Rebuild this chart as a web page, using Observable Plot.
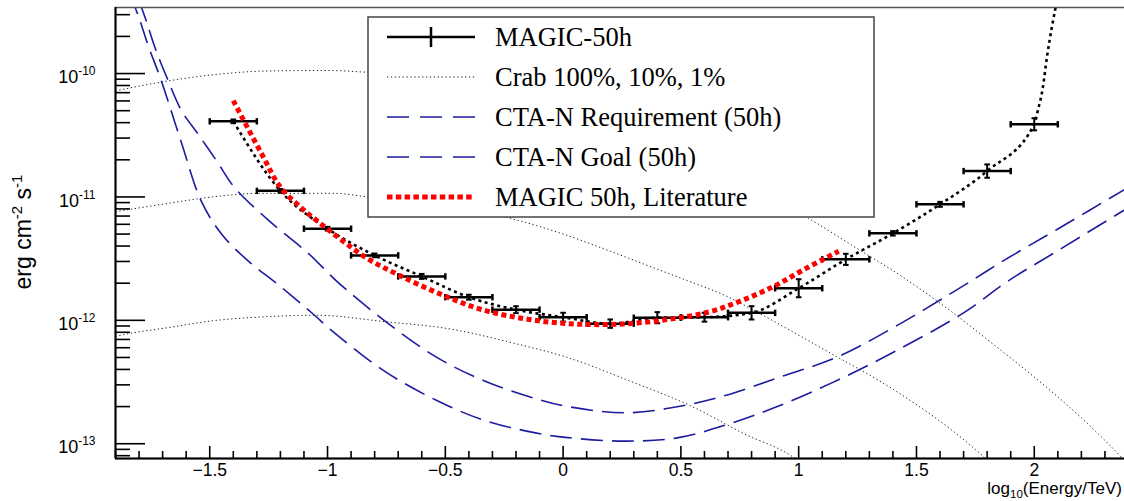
<!DOCTYPE html>
<html>
<head>
<meta charset="utf-8">
<script src="https://cdn.jsdelivr.net/npm/d3@7"></script>
<script src="https://cdn.jsdelivr.net/npm/@observablehq/plot@0.6"></script>
<style>
html, body { margin: 0; padding: 0; background: #fff; overflow: hidden; }
#chart { width: 1124px; height: 501px; overflow: hidden; position: relative; }
#chart svg { max-width: none !important; display: block; }
</style>
</head>
<body>
<div id="chart"></div>
<script>
// ---------------- data ----------------
// MAGIC-50h sensitivity points (log10 E/TeV bin centres, flux in erg cm^-2 s^-1)
const magicLogE = [-1.4,-1.2,-1.0,-0.8,-0.6,-0.4,-0.2,0.0,0.2,0.4,0.6,0.8,1.0,1.2,1.4,1.6,1.8,2.0];
const magicFlux = [4.10e-11,1.12e-11,5.53e-12,3.36e-12,2.27e-12,1.54e-12,1.22e-12,1.06e-12,0.94e-12,1.05e-12,1.06e-12,1.15e-12,1.82e-12,3.12e-12,5.07e-12,8.71e-12,1.62e-11,3.88e-11];
const magicErrDex = [0.015,0.015,0.015,0.015,0.02,0.02,0.028,0.036,0.034,0.045,0.036,0.054,0.073,0.045,0.018,0.02,0.054,0.049];
const magicBinHalf = 0.1;
// black dotted curve continuing above the last point
const magicTailLogE = [2.015,2.035,2.055,2.075,2.092];
const magicTailFlux = [5.01e-11,7.41e-11,1.41e-10,2.40e-10,3.55e-10];

// MAGIC 50h, literature
const litLogE = [-1.40,-1.28,-1.20,-1.11,-1.04,-0.94,-0.83,-0.70,-0.53,-0.35,-0.15,0.05,0.25,0.45,0.62,0.76,0.90,1.03,1.17];
const litFlux = [6.03e-11,2.24e-11,1.20e-11,8.13e-12,6.31e-12,4.47e-12,3.16e-12,2.34e-12,1.66e-12,1.23e-12,1.02e-12,9.33e-13,9.33e-13,1.02e-12,1.17e-12,1.45e-12,1.91e-12,2.63e-12,3.63e-12];

// Crab 100 %, 10 %, 1 %
const crab100LogE = [-1.9,-1.78,-1.61,-1.46,-1.27,-1.0,-0.83,-0.5,-0.2,0.0,0.3,0.6,0.85,1.04,1.25,1.45,1.65,1.83,2.0,2.2,2.34,2.4];
const crab100Flux = [7.24e-11,8.04e-11,9.12e-11,9.89e-11,1.047e-10,1.059e-10,1.023e-10,8.91e-11,6.76e-11,5.13e-11,3.09e-11,1.82e-11,1.10e-11,6.76e-12,3.80e-12,2.19e-12,1.17e-12,6.31e-13,3.47e-13,1.62e-13,8.91e-14,6.76e-14];
const crab10LogE = [-1.9,-1.67,-1.49,-1.28,-0.97,-0.83,-0.5,-0.23,0.0,0.2,0.42,0.53,0.70,0.84,1.12,1.41,1.69,1.8];
const crab10Flux = [7.59e-12,8.91e-12,1.0e-11,1.07e-11,1.07e-11,1.0e-11,8.71e-12,6.76e-12,5.01e-12,3.63e-12,2.51e-12,2.09e-12,1.55e-12,1.12e-12,5.62e-13,2.69e-13,1.12e-13,7.41e-14];
const crab1LogE = [-1.9,-1.85,-1.68,-1.47,-1.26,-1.05,-0.76,-0.48,-0.2,0.0,0.28,0.56,0.77,0.97,1.0];
const crab1Flux = [7.41e-13,7.76e-13,8.71e-13,1.0e-12,1.07e-12,1.10e-12,9.77e-13,8.51e-13,6.46e-13,5.13e-13,3.24e-13,1.95e-13,1.20e-13,7.94e-14,7.24e-14];

// CTA-N requirement and goal (50h)
const ctaReqLogE = [-1.80,-1.77,-1.73,-1.677,-1.62,-1.55,-1.47,-1.396,-1.25,-1.08,-0.965,-0.76,-0.536,-0.336,-0.123,0.02,0.265,0.49,0.705,0.92,1.16,1.41,1.70,1.87,2.1,2.4];
const ctaReqFlux = [3.89e-10,2.69e-10,1.58e-10,8.81e-11,5.01e-11,3.24e-11,1.95e-11,1.20e-11,6.46e-12,3.47e-12,2.11e-12,1.0e-12,5.01e-13,3.24e-13,2.34e-13,2.0e-13,1.78e-13,2.0e-13,2.51e-13,3.47e-13,5.01e-13,8.91e-13,1.91e-12,3.05e-12,5.50e-12,1.20e-11];
const ctaGoalLogE = [-1.84,-1.80,-1.76,-1.707,-1.62,-1.537,-1.45,-1.336,-1.217,-1.06,-0.99,-0.76,-0.536,-0.336,-0.123,0.02,0.265,0.49,0.705,0.92,1.16,1.41,1.70,1.89,2.1,2.4];
const ctaGoalFlux = [4.47e-10,2.82e-10,1.66e-10,8.91e-11,2.75e-11,9.33e-12,5.01e-12,3.02e-12,2.0e-12,1.12e-12,8.51e-13,3.89e-13,2.24e-13,1.55e-13,1.23e-13,1.12e-13,1.05e-13,1.12e-13,1.45e-13,2.04e-13,3.24e-13,5.62e-13,1.15e-12,2.09e-12,3.67e-12,8.22e-12];

// axes & texts
const xTickValues = [-1.5,-1,-0.5,0,0.5,1,1.5,2];
const yTickValues = [1e-13,1e-12,1e-11,1e-10];
const legendLabels = ["MAGIC-50h","Crab 100%, 10%, 1%","CTA-N Requirement (50h)","CTA-N Goal (50h)","MAGIC 50h, Literature"];
const yTitleParts = ["erg cm","-2"," s","-1"];
const xTitleParts = ["log","10","(Energy/TeV)"];

// ---------------- build ----------------
const W = 1130, H = 501;
const mL = 115, mR = 2, mT = 7, mB = 43;
const frameW = W - mL - mR, frameH = H - mT - mB;
const xDomain = [-1.9, 2.4];
const yDomain = [7.59e-14, 3.43e-10];
const SANS = "'Liberation Sans', Arial, sans-serif";
const SERIF = "'Liberation Serif', 'Times New Roman', serif";

const magic = magicLogE.map((e, i) => ({
  e, f: magicFlux[i],
  lo: magicFlux[i] / Math.pow(10, magicErrDex[i]),
  hi: magicFlux[i] * Math.pow(10, magicErrDex[i])
}));
const magicCurve = magicLogE.map((e, i) => ({e, f: magicFlux[i]}))
  .concat(magicTailLogE.map((e, i) => ({e, f: magicTailFlux[i]})));
const capsH = magic.flatMap(d => [{x: d.e - magicBinHalf, y: d.f}, {x: d.e + magicBinHalf, y: d.f}]);
const capsV = magic.flatMap(d => [{x: d.e, y: d.lo}, {x: d.e, y: d.hi}]);
const pairs = (xs, ys) => xs.map((x, i) => ({x, y: ys[i]}));

const yMinor = [];
for (let k = -14; k <= -10; k++) for (let m = 2; m <= 9; m++) {
  const v = m * Math.pow(10, k);
  if (v >= yDomain[0] && v <= yDomain[1]) yMinor.push(v);
}
const xMinor = d3.range(-19, 25).map(v => v / 10).filter(v => !xTickValues.some(t => Math.abs(t - v) < 1e-9));

const vbar = {draw(ctx, size) { const h = Math.sqrt(size / Math.PI); ctx.moveTo(0, -h); ctx.lineTo(0, h); }};
const hbar = {draw(ctx, size) { const h = Math.sqrt(size / Math.PI); ctx.moveTo(-h, 0); ctx.lineTo(h, 0); }};

const crabStyle = {x: "x", y: "y", stroke: "#222", strokeWidth: 1, strokeDasharray: "1.3,2.6", strokeLinecap: "butt", curve: "monotone-x", clip: true};
const ctaStyle = {x: "x", y: "y", stroke: "#1c1ca0", strokeWidth: 1.6, strokeDasharray: "22,9", strokeLinecap: "butt", curve: "catmull-rom", clip: true};

const svg = Plot.plot({
  width: W, height: H,
  marginLeft: mL, marginRight: mR, marginTop: mT, marginBottom: mB,
  style: {background: "white", fontFamily: SANS, fontSize: "17px", maxWidth: "none", overflow: "hidden"},
  x: {domain: xDomain},
  y: {type: "log", domain: yDomain},
  marks: [
    // crab
    Plot.line(pairs(crab100LogE, crab100Flux), crabStyle),
    Plot.line(pairs(crab10LogE, crab10Flux), crabStyle),
    Plot.line(pairs(crab1LogE, crab1Flux), crabStyle),
    // CTA
    Plot.line(pairs(ctaReqLogE, ctaReqFlux), ctaStyle),
    Plot.line(pairs(ctaGoalLogE, ctaGoalFlux), ctaStyle),
    // MAGIC curve + points
    Plot.line(magicCurve, {x: "e", y: "f", stroke: "#000", strokeWidth: 2.6, strokeDasharray: "3,3.5", strokeLinecap: "butt", curve: "monotone-x", clip: true}),
    Plot.ruleY(magic, {y: "f", x1: d => d.e - magicBinHalf, x2: d => d.e + magicBinHalf, stroke: "#000", strokeWidth: 2.5}),
    Plot.ruleX(magic, {x: "e", y1: "lo", y2: "hi", stroke: "#000", strokeWidth: 2}),
    Plot.dot(capsH, {x: "x", y: "y", symbol: vbar, r: 3.2, stroke: "#000", strokeWidth: 2.5, fill: "none"}),
    Plot.dot(capsV, {x: "x", y: "y", symbol: hbar, r: 2.8, stroke: "#000", strokeWidth: 2, fill: "none"}),
    // literature
    Plot.line(pairs(litLogE, litFlux), {x: "x", y: "y", stroke: "#ff0000", strokeWidth: 5, strokeDasharray: "5,3.5", strokeLinecap: "butt", strokeLinejoin: "miter", curve: "catmull-rom", clip: true}),
    // frame + ROOT style inner ticks
    Plot.frame({stroke: "#555", strokeWidth: 1.5}),
    Plot.ruleY(yTickValues, {insetRight: frameW - 30, stroke: "#000", strokeWidth: 1.6}),
    Plot.ruleY(yMinor, {insetRight: frameW - 15, stroke: "#000", strokeWidth: 1.6}),
    Plot.ruleX(xTickValues, {insetTop: frameH - 12, stroke: "#000", strokeWidth: 1.6}),
    Plot.ruleX(xMinor, {insetTop: frameH - 7, stroke: "#000", strokeWidth: 1.6}),
    Plot.ruleX([xDomain[0]], {stroke: "#000", strokeWidth: 2}),
    Plot.ruleY([yDomain[0]], {stroke: "#000", strokeWidth: 2}),
    Plot.axisY(yTickValues, {anchor: "left", tickSize: 0, tickPadding: 20, dy: 4,
      tickFormat: d => "10|" + "-" + Math.abs(Math.round(Math.log10(d)))}),
    Plot.axisX(xTickValues, {anchor: "bottom", tickSize: 0, tickPadding: 5,
      tickFormat: d => (d < 0 ? "\u2212" + Math.abs(d) : String(d))})
  ]
});
document.getElementById("chart").append(svg);

const s = d3.select(svg);
// y tick labels: size + superscript exponents
s.selectAll('g[aria-label="y-axis tick label"]').attr("font-size", null);
s.selectAll('g[aria-label="y-axis tick label"] text').each(function() {
  const t = d3.select(this);
  const [base, exp] = t.text().split("|");
  t.text(null).attr("font-size", "18px").attr("font-family", SANS);
  t.append("tspan").text(base);
  t.append("tspan").attr("font-size", "12px").attr("dy", "-8").text(exp);
});
s.selectAll('g[aria-label="x-axis tick label"]').attr("font-size", null);
s.selectAll('g[aria-label="x-axis tick label"] text').attr("font-size", "17.5px").attr("font-family", SANS);

// y title
const yt = s.append("text")
  .attr("transform", "translate(31,232) rotate(-90)")
  .attr("text-anchor", "middle")
  .attr("font-family", SANS)
  .attr("font-size", "23px").attr("fill", "#000");
yt.append("tspan").text(yTitleParts[0]);
yt.append("tspan").attr("font-size", "15px").attr("dy", "-9").text(yTitleParts[1]);
yt.append("tspan").attr("dy", "9").text(yTitleParts[2]);
yt.append("tspan").attr("font-size", "15px").attr("dy", "-9").text(yTitleParts[3]);

// x title
const xt = s.append("text")
  .attr("x", 1122).attr("y", 494)
  .attr("text-anchor", "end")
  .attr("font-family", SANS)
  .attr("font-size", "17px").attr("fill", "#000");
xt.append("tspan").text(xTitleParts[0]);
xt.append("tspan").attr("font-size", "11.5px").attr("dy", "4").text(xTitleParts[1]);
xt.append("tspan").attr("dy", "-4").text(xTitleParts[2]);

// legend
const lg = s.append("g").attr("text-anchor", "start");
lg.append("rect").attr("x", 368).attr("y", 17).attr("width", 506).attr("height", 200)
  .attr("fill", "white").attr("stroke", "#444").attr("stroke-width", 1.5);
const rowY = i => 37 + i * 40;
const lx1 = 387, lx2 = 475;
const sample = (i, attrs) => {
  const l = lg.append("line").attr("x1", lx1).attr("x2", lx2).attr("y1", rowY(i)).attr("y2", rowY(i));
  Object.entries(attrs).forEach(([k, v]) => l.attr(k, v));
};
sample(0, {stroke: "#000", "stroke-width": 2.5});
lg.append("line").attr("x1", 431).attr("x2", 431).attr("y1", rowY(0) - 10).attr("y2", rowY(0) + 10)
  .attr("stroke", "#000").attr("stroke-width", 2.5);
sample(1, {stroke: "#222", "stroke-width": 1, "stroke-dasharray": "1.3,2.6"});
sample(2, {stroke: "#1c1ca0", "stroke-width": 1.6, "stroke-dasharray": "22,11"});
sample(3, {stroke: "#1c1ca0", "stroke-width": 1.6, "stroke-dasharray": "22,11"});
sample(4, {stroke: "#ff0000", "stroke-width": 5, "stroke-dasharray": "5.5,3.3"});
legendLabels.forEach((lab, i) => {
  lg.append("text").attr("x", 495).attr("y", rowY(i) + 9)
    .attr("text-anchor", "start")
    .attr("font-family", SERIF)
    .attr("font-size", "26.5px").attr("fill", "#000").text(lab);
});
</script>
</body>
</html>
